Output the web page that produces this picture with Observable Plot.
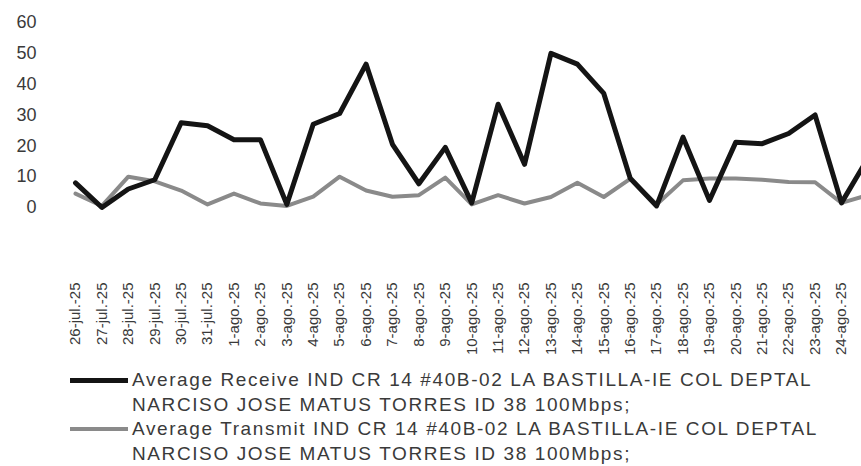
<!DOCTYPE html>
<html>
<head>
<meta charset="utf-8">
<script src="https://cdn.jsdelivr.net/npm/d3@7"></script>
<script src="https://cdn.jsdelivr.net/npm/@observablehq/plot@0.6"></script>
<style>
  html, body { margin: 0; padding: 0; background: #fff; width: 861px; height: 466px; overflow: hidden; }
  #chart svg { display: block; }
  .legend { font-family: "Liberation Sans", Arial, sans-serif; font-size: 19px; letter-spacing: 1.6px; color: #3a3a3a; line-height: 24.5px; padding-left: 70px; padding-top: 3px; white-space: nowrap; }
  .item { display: flex; align-items: flex-start; }
  .sw { width: 58px; margin-top: 10px; margin-right: 4px; flex: none; }
</style>
</head>
<body>
<div id="chart"></div>
<div class="legend" id="legend"></div>
<script>
const dates = ["26-jul.-25","27-jul.-25","28-jul.-25","29-jul.-25","30-jul.-25","31-jul.-25",
  "1-ago.-25","2-ago.-25","3-ago.-25","4-ago.-25","5-ago.-25","6-ago.-25","7-ago.-25","8-ago.-25",
  "9-ago.-25","10-ago.-25","11-ago.-25","12-ago.-25","13-ago.-25","14-ago.-25","15-ago.-25",
  "16-ago.-25","17-ago.-25","18-ago.-25","19-ago.-25","20-ago.-25","21-ago.-25","22-ago.-25",
  "23-ago.-25","24-ago.-25","25-ago.-25"];
const receive = [8, 0, 6, 9, 27.5, 26.5, 22, 22, 1, 27, 30.5, 46.5, 20.5, 7.7, 19.5, 1.5, 33.5, 14,
  50, 46.5, 37, 9.5, 0.5, 22.8, 2.3, 21.2, 20.7, 24, 30, 1.5, 16];
const transmit = [4.5, 0.5, 10, 8.5, 5.5, 1, 4.5, 1.3, 0.5, 3.5, 10, 5.5, 3.5, 4, 9.7, 1, 4, 1.3,
  3.4, 8, 3.4, 9.3, 1, 8.8, 9.4, 9.4, 9, 8.3, 8.2, 1.5, 4];
const yTicks = [0, 10, 20, 30, 40, 50, 60];
const visibleTicks = dates.slice(0, 30).map((d, i) => i);
const seriesNames = [
  ["Average Receive IND CR 14 #40B-02 LA BASTILLA-IE COL DEPTAL", "NARCISO JOSE MATUS TORRES ID 38 100Mbps;"],
  ["Average Transmit IND CR 14 #40B-02 LA BASTILLA-IE COL DEPTAL", "NARCISO JOSE MATUS TORRES ID 38 100Mbps;"]
];
const colors = ["#141414", "#8a8a8a"];
const widths = [5, 4];

const rows = [];
receive.forEach((v, i) => rows.push({i, v, s: 0}));
transmit.forEach((v, i) => rows.push({i, v, s: 1}));

const chart = Plot.plot({
  width: 861,
  height: 365,
  marginLeft: 75,
  marginRight: 20,
  marginTop: 22,
  marginBottom: 158,
  style: {fontFamily: "'Liberation Sans', Arial, sans-serif", color: "#3a3a3a", background: "#fff"},
  x: {type: "linear", domain: [0, 29]},
  y: {domain: [0, 60]},
  marks: [
    Plot.axisY(yTicks, {tickSize: 0, tickPadding: 39, fontSize: 18, label: null}),
    Plot.axisX(visibleTicks, {tickSize: 0, tickPadding: 75, tickRotate: -90, fontSize: 15, label: null,
      tickFormat: i => dates[i]}),
    Plot.line(rows.filter(d => d.s === 1), {x: "i", y: "v", stroke: colors[1], strokeWidth: widths[1], strokeLinejoin: "round"}),
    Plot.line(rows.filter(d => d.s === 0), {x: "i", y: "v", stroke: colors[0], strokeWidth: widths[0], strokeLinejoin: "round"})
  ]
});
document.getElementById("chart").appendChild(chart);

const legend = document.getElementById("legend");
seriesNames.forEach((lines, k) => {
  const item = document.createElement("div");
  item.className = "item";
  const sw = document.createElement("div");
  sw.className = "sw";
  sw.style.height = widths[k] + "px";
  sw.style.background = colors[k];
  const t = document.createElement("div");
  t.innerHTML = lines.join("<br>");
  item.appendChild(sw);
  item.appendChild(t);
  legend.appendChild(item);
});
</script>
</body>
</html>
